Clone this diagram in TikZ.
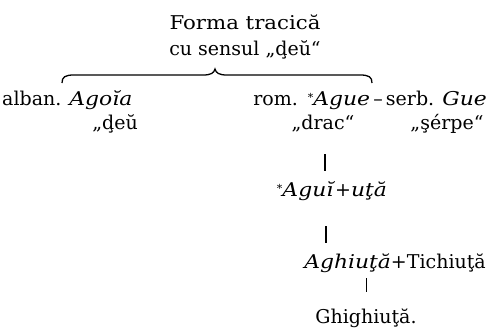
\documentclass[tikz,border=0pt]{standalone}
\usepackage{fontspec}
\setmainfont{DejaVu Serif}
\newcommand{\recon}{\raisebox{.35ex}{\fontsize{11}{11}\selectfont *}}
\newcommand{\itw}[1]{\scalebox{1.15}[1]{\textit{#1}}}
\begin{document}
\begin{tikzpicture}[x=1pt,y=-1pt,
  txt/.style={inner sep=0pt, font=\fontsize{19}{23}\selectfont},
  bar/.style={line width=1.3pt},
  thinbar/.style={line width=0.9pt},
  brace/.style={line width=1.3pt}]
\useasboundingbox (0,0) rectangle (488,335);
\node[txt] (forma) at (245,22) {\scalebox{1.12}[1]{Forma tracică}};
\node[txt] (cu) at (245,50) {cu sensul „ḑeŭ“};
\coordinate (bl) at (62,83);
\coordinate (tip) at (215,69);
\coordinate (br) at (372,83);
\draw[brace] (bl) .. controls (62,77) and (65,75) .. (74,75) -- (203,75)
  .. controls (211,75) and (214,73) .. (tip)
  .. controls (216,73) and (219,75) .. (227,75) -- (360,75)
  .. controls (369,75) and (372,77) .. (br);
\node[txt, anchor=west] (alban) at (2,100) {alban. \itw{Agoĭa}};
\node[txt] (deu) at (115,124) {„ḑeŭ};
\node[txt, anchor=east] (rom) at (487,100) {rom.\hspace{10pt}\recon\itw{Ague}\,–\,serb. \itw{Gue}};
\node[txt] (drac) at (323,124) {„drac“};
\node[txt] (serpe) at (447,124) {„şérpe“};
\node[txt] (agui) at (332,191) {\recon\itw{Aguĭ}+\itw{uţă}};
\node[txt, anchor=east] (aghiu) at (486,263) {\itw{Aghiuţă}+Tichiuţă};
\node[txt] (ghig) at (366,318) {Ghighiuţă.};
\coordinate (b1t) at (325,154);
\coordinate (b1b) at (325,171);
\coordinate (b2t) at (326,226);
\coordinate (b2b) at (326,243);
\coordinate (b3t) at (366,278);
\coordinate (b3b) at (366,292);
\draw[bar] (b1t) -- (b1b);
\draw[bar] (b2t) -- (b2b);
\draw[thinbar] (b3t) -- (b3b);
\end{tikzpicture}
\end{document}
